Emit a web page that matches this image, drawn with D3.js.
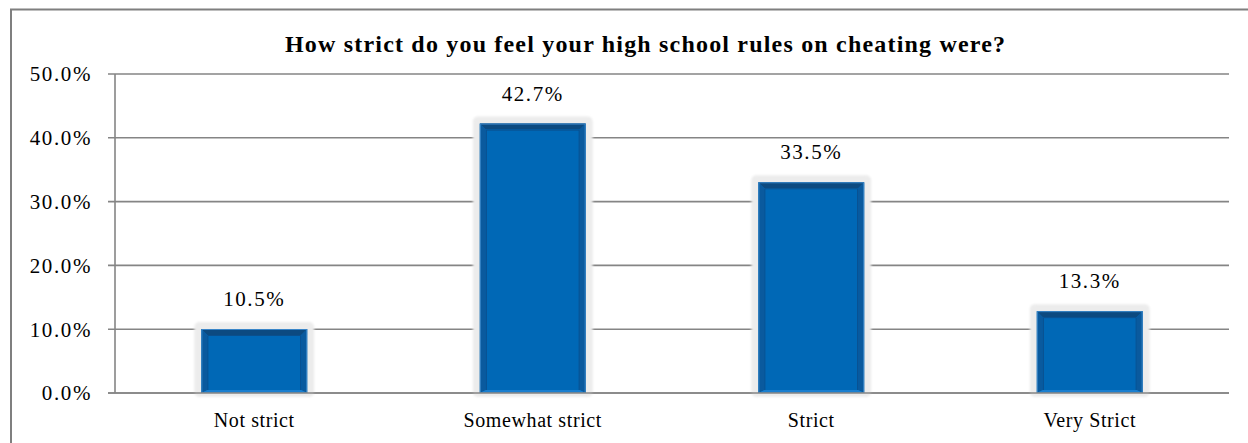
<!DOCTYPE html>
<html>
<head>
<meta charset="utf-8">
<script src="https://cdn.jsdelivr.net/npm/d3@7"></script>
<style>
  html, body { margin: 0; padding: 0; background: #fff; }
  svg { display: block; }
  text { font-family: "Liberation Serif", "DejaVu Serif", serif; fill: #000; }
</style>
</head>
<body>
<svg id="chart" width="1248" height="443"></svg>
<script>
const title = "How strict do you feel your high school rules on cheating were?";
const categories = ["Not strict", "Somewhat strict", "Strict", "Very Strict"];
const values = [0.105, 0.427, 0.335, 0.133];
const tickValues = [0, 0.1, 0.2, 0.3, 0.4, 0.5];

const svg = d3.select("#chart");
const plot = { left: 115, right: 1229, top: 74, bottom: 393 };

// outer chart border
svg.append("rect")
  .attr("x", 11).attr("y", 9.5).attr("width", 1260).attr("height", 460)
  .attr("fill", "none").attr("stroke", "#7f7f7f").attr("stroke-width", 2);

const x = d3.scaleBand().domain(categories)
  .range([plot.left, plot.right]).paddingInner(0.62).paddingOuter(0.31);
const y = d3.scaleLinear().domain([0, 0.5]).range([plot.bottom, plot.top]);
const fmt = d3.format(".1%");

// gridlines
svg.append("g").selectAll("line").data(tickValues).join("line")
  .attr("x1", plot.left - 7).attr("x2", plot.right)
  .attr("y1", d => y(d)).attr("y2", d => y(d))
  .attr("stroke", "#858585").attr("stroke-width", 1.6);

// y axis labels
svg.append("g").selectAll("text").data(tickValues).join("text")
  .attr("x", 92).attr("y", d => y(d)).attr("dy", "0.35em")
  .attr("text-anchor", "end").attr("font-size", 21)
  .attr("letter-spacing", 1.6)
  .text(d => fmt(d));

// y axis line
svg.append("line")
  .attr("x1", plot.left).attr("x2", plot.left)
  .attr("y1", y(0.5)).attr("y2", y(0))
  .attr("stroke", "#858585").attr("stroke-width", 1.6);

// bars
const defs = svg.append("defs");
const f = defs.append("filter").attr("id", "glow").attr("x", "-20%").attr("y", "-20%").attr("width", "140%").attr("height", "140%");
f.append("feGaussianBlur").attr("stdDeviation", 1.2);

const bw = x.bandwidth();
const inset = 6;
const g = svg.append("g");
const bars = g.selectAll("g.bar").data(values).join("g").attr("class", "bar");

bars.each(function(v, i) {
  const sel = d3.select(this);
  const x0 = x(categories[i]);
  const yTop = y(v) + 3;
  const yBot = y(0);
  const h = yBot - yTop;
  // soft glow
  sel.append("rect")
    .attr("x", x0 - 7).attr("y", yTop - 7).attr("width", bw + 14).attr("height", h + 11)
    .attr("rx", 5).attr("fill", "#ececec").attr("filter", "url(#glow)");
  // base
  sel.append("rect")
    .attr("x", x0).attr("y", yTop).attr("width", bw).attr("height", h)
    .attr("fill", "#0767b4");
  const xi0 = x0 + inset, xi1 = x0 + bw - inset, yi0 = yTop + inset, yi1 = yBot - 3;
  const x1 = x0 + bw;
  // top bevel (dark)
  sel.append("path").attr("d", `M${x0},${yTop}L${x1},${yTop}L${xi1},${yi0}L${xi0},${yi0}Z`).attr("fill", "#0c4a80");
  // left bevel
  sel.append("path").attr("d", `M${x0},${yTop}L${xi0},${yi0}L${xi0},${yi1}L${x0},${yBot}Z`).attr("fill", "#0a5a9e");
  // right bevel
  sel.append("path").attr("d", `M${x1},${yTop}L${xi1},${yi0}L${xi1},${yi1}L${x1},${yBot}Z`).attr("fill", "#0a5a9e");
  // bottom bevel (light)
  sel.append("path").attr("d", `M${x0},${yBot}L${xi0},${yi1}L${xi1},${yi1}L${x1},${yBot}Z`).attr("fill", "#1a7fd0");
  // inner face
  sel.append("rect")
    .attr("x", xi0).attr("y", yi0).attr("width", xi1 - xi0).attr("height", yi1 - yi0)
    .attr("fill", "#0068b6");
  // inner dark edge lines
  sel.append("path")
    .attr("d", `M${xi0 + 0.5},${yi1}L${xi0 + 0.5},${yi0 + 0.5}L${xi1 - 0.5},${yi0 + 0.5}L${xi1 - 0.5},${yi1}`)
    .attr("fill", "none").attr("stroke", "#0a4f8c").attr("stroke-width", 1);
  // light rim
  sel.append("rect")
    .attr("x", x0 + 0.5).attr("y", yTop + 0.5).attr("width", bw - 1).attr("height", h - 1)
    .attr("fill", "none").attr("stroke", "#3a86c8").attr("stroke-width", 1);
});

// redraw baseline over bars
svg.append("line")
  .attr("x1", plot.left - 7).attr("x2", plot.right)
  .attr("y1", y(0)).attr("y2", y(0))
  .attr("stroke", "#858585").attr("stroke-width", 1.6);

// data labels
svg.append("g").selectAll("text").data(values).join("text")
  .attr("x", (d, i) => x(categories[i]) + bw / 2)
  .attr("y", d => y(d) - 20)
  .attr("text-anchor", "middle").attr("font-size", 21).attr("letter-spacing", 1.6)
  .text(d => fmt(d));

// category labels
svg.append("g").selectAll("text").data(categories).join("text")
  .attr("x", d => x(d) + bw / 2).attr("y", 427)
  .attr("text-anchor", "middle").attr("font-size", 20).attr("letter-spacing", 0.6)
  .text(d => d);

// title
svg.append("text")
  .attr("x", 645).attr("y", 52)
  .attr("text-anchor", "middle").attr("font-size", 24).attr("font-weight", "bold")
  .attr("textLength", 720).attr("lengthAdjust", "spacing")
  .text(title);
</script>
</body>
</html>
